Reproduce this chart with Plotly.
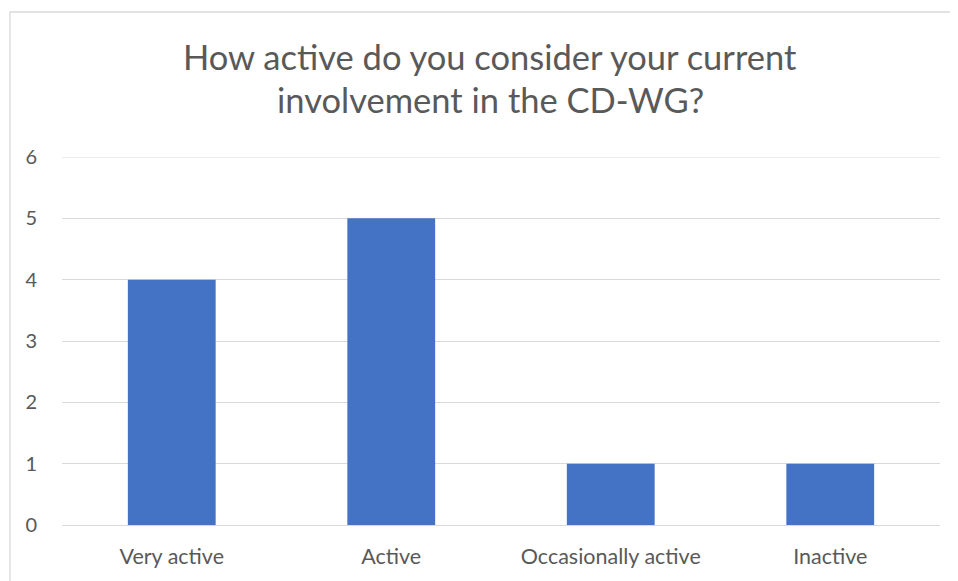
import plotly.graph_objects as go

categories = ["Very active", "Active", "Occasionally active", "Inactive"]
values = [4, 5, 1, 1]
title_lines = ["How active do you consider your current", "involvement in the CD-WG?"]
y_ticks = [0, 1, 2, 3, 4, 5, 6]

W, H = 958, 581
OFF = 8  # page body margin offset
L, T = 62 - OFF, 157 - OFF
R = W - (940 - OFF)
B = H - (525 - OFF)
pw, ph = W - L - R, H - T - B

def px_x(X):
    return (X - OFF - L) / pw

def px_y(Y):
    return (H - B - (Y - OFF)) / ph

FONT = "Lato"
TXT = "#595959"
GRID = "#D9D9D9"

fig = go.Figure(go.Bar(x=categories, y=values, marker=dict(color="#4472C4", line=dict(width=0))))

fig.update_layout(
    width=W, height=H,
    margin=dict(l=L, r=R, t=T, b=B),
    plot_bgcolor="white", paper_bgcolor="white",
    bargap=0.6,
    showlegend=False,
    font=dict(family=FONT, color=TXT),
)
fig.update_xaxes(showgrid=False, showline=False, ticks="", tickfont=dict(size=21.5, color=TXT, family=FONT),
                 ticklabelstandoff=16)
fig.update_yaxes(range=[0, max(y_ticks)], tickvals=y_ticks, showgrid=True, gridcolor=GRID, gridwidth=1,
                 zeroline=True, zerolinecolor=GRID, zerolinewidth=1, showline=False, ticks="",
                 tickfont=dict(size=20, color=TXT, family=FONT), ticklabelstandoff=24)

# top gridline (plotly omits the grid line lying on the plot edge)
fig.add_hline(y=max(y_ticks), line=dict(color=GRID, width=1), layer="below")

for line, yc in zip(title_lines, [57, 100]):
    fig.add_annotation(text=line, xref="paper", yref="paper", x=px_x(490), y=px_y(yc),
                       xanchor="center", yanchor="middle", showarrow=False,
                       font=dict(size=34.5, color=TXT, family=FONT))

fig.add_shape(type="rect", xref="paper", yref="paper", x0=px_x(10), x1=px_x(1000), y0=px_y(640), y1=px_y(12),
              line=dict(color=GRID, width=1.3), fillcolor="rgba(0,0,0,0)", layer="below")

fig.write_html("out.html")
